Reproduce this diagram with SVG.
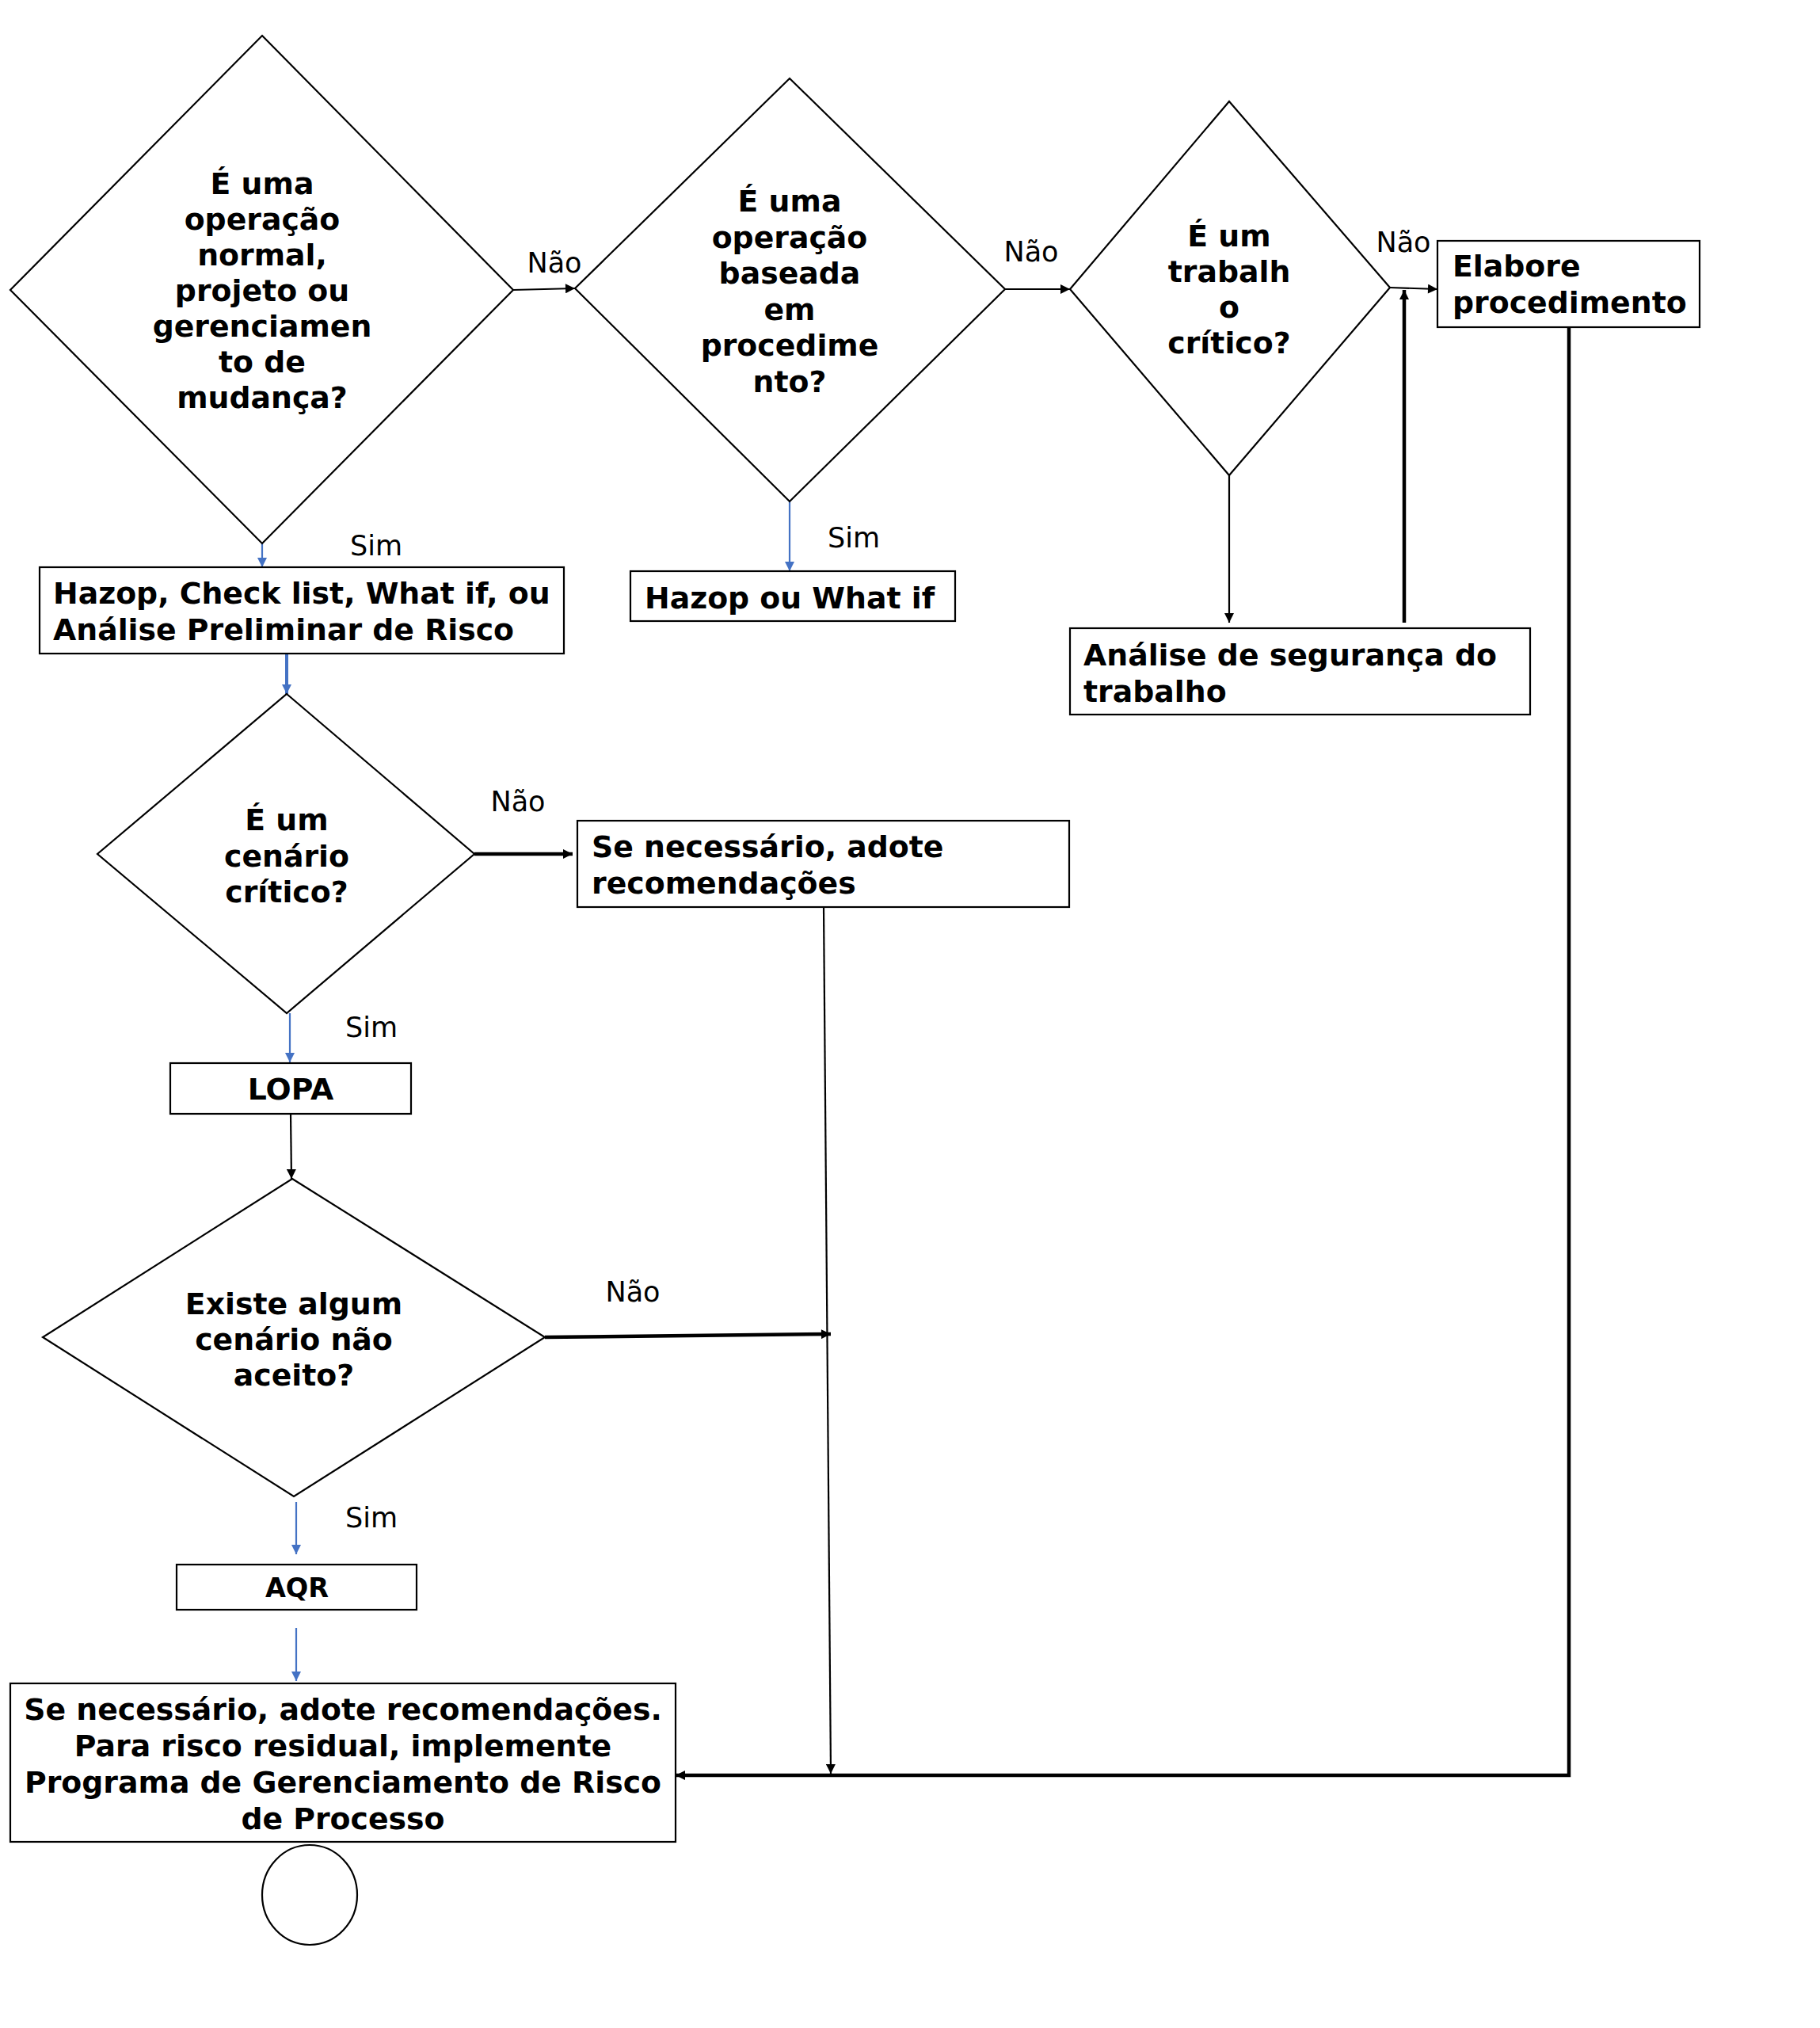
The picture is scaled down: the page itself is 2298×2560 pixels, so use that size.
<svg xmlns="http://www.w3.org/2000/svg" width="2298" height="2560" viewBox="0 0 2298 2560">
<defs>
<marker id="ab" viewBox="0 0 10 10" markerWidth="14" markerHeight="12" refX="10" refY="5" orient="auto" markerUnits="userSpaceOnUse"><path d="M0,0 L10,5 L0,10 Z" fill="#000"/></marker>
<marker id="au" viewBox="0 0 10 10" markerWidth="14" markerHeight="12" refX="10" refY="5" orient="auto" markerUnits="userSpaceOnUse"><path d="M0,0 L10,5 L0,10 Z" fill="#4472C4"/></marker>
</defs>
<style>
.shape{fill:#fff;stroke:#000;stroke-width:2.2}
.t{font-family:"DejaVu Sans","Verdana",sans-serif;font-weight:bold;font-size:37.8px;fill:#000}
.c{text-anchor:middle}
.lbl{font-family:"DejaVu Sans","Verdana",sans-serif;font-size:35px;fill:#000;text-anchor:middle}
.k{fill:none;stroke:#000;stroke-width:2.2}
.kk{fill:none;stroke:#000;stroke-width:4.5}
.b{fill:none;stroke:#4472C4;stroke-width:2.2}
.bb{fill:none;stroke:#4472C4;stroke-width:4}
</style>
<rect width="2298" height="2560" fill="#fff"/>

<g id="connectors">
<line class="k" x1="648" y1="366" x2="726" y2="364" marker-end="url(#ab)"/>
<line class="k" x1="1269" y1="365" x2="1351" y2="365" marker-end="url(#ab)"/>
<line class="k" x1="1755" y1="363" x2="1815" y2="365" marker-end="url(#ab)"/>
<line class="b" x1="331" y1="686" x2="331" y2="716" marker-end="url(#au)"/>
<line class="bb" x1="362" y1="825" x2="362" y2="876" marker-end="url(#au)"/>
<line class="b" x1="997" y1="633" x2="997" y2="721" marker-end="url(#au)"/>
<line class="k" x1="1552" y1="600" x2="1552" y2="786" marker-end="url(#ab)"/>
<line class="kk" x1="1773" y1="786" x2="1773" y2="366" marker-end="url(#ab)"/>
<line class="kk" x1="599" y1="1078" x2="723" y2="1078" marker-end="url(#ab)"/>
<line class="b" x1="366" y1="1279" x2="366" y2="1341" marker-end="url(#au)"/>
<line class="k" x1="367" y1="1406" x2="368" y2="1488" marker-end="url(#ab)"/>
<line class="kk" x1="688" y1="1688" x2="1049" y2="1684" marker-end="url(#ab)"/>
<line class="k" x1="1040" y1="1145" x2="1049" y2="2239" marker-end="url(#ab)"/>
<line class="b" x1="374" y1="1896" x2="374" y2="1962" marker-end="url(#au)"/>
<line class="b" x1="374" y1="2055" x2="374" y2="2122" marker-end="url(#au)"/>
<polyline class="kk" points="1981,413 1981,2241 853,2241" marker-end="url(#ab)"/>
<text class="lbl" x="700" y="344">Não</text>
<text class="lbl" x="1302" y="330">Não</text>
<text class="lbl" x="1772" y="318">Não</text>
<text class="lbl" x="654" y="1024">Não</text>
<text class="lbl" x="799" y="1643">Não</text>
<text class="lbl" x="475" y="701">Sim</text>
<text class="lbl" x="1078" y="691">Sim</text>
<text class="lbl" x="469" y="1309">Sim</text>
<text class="lbl" x="469" y="1928">Sim</text>
</g>

<g id="d1">
<polygon class="shape" points="331,45 648,366 331,686 13,366"/>
<text class="t c" x="331" y="245"><tspan x="331">É uma</tspan><tspan x="331" dy="45">operação</tspan><tspan x="331" dy="45">normal,</tspan><tspan x="331" dy="45">projeto ou</tspan><tspan x="331" dy="45">gerenciamen</tspan><tspan x="331" dy="45">to de</tspan><tspan x="331" dy="45">mudança?</tspan></text>
</g>

<g id="d2">
<polygon class="shape" points="997,99 1269,365 997,633 726,364"/>
<text class="t c" x="997" y="267"><tspan x="997">É uma</tspan><tspan x="997" dy="45.6">operação</tspan><tspan x="997" dy="45.6">baseada</tspan><tspan x="997" dy="45.6">em</tspan><tspan x="997" dy="45.6">procedime</tspan><tspan x="997" dy="45.6">nto?</tspan></text>
</g>

<g id="d3">
<polygon class="shape" points="1552,128 1755,363 1552,600 1351,365"/>
<text class="t c" x="1552" y="311"><tspan x="1552">É um</tspan><tspan x="1552" dy="45">trabalh</tspan><tspan x="1552" dy="45">o</tspan><tspan x="1552" dy="45">crítico?</tspan></text>
</g>

<g id="elabore">
<rect class="shape" x="1815" y="304" width="331" height="109"/>
<text class="t" x="1834" y="349">Elabore</text>
<text class="t" x="1834" y="395">procedimento</text>
</g>

<g id="hazop1">
<rect class="shape" x="50" y="716" width="662" height="109"/>
<text class="t" x="67" y="762">Hazop, Check list, What if, ou</text>
<text class="t" x="67" y="808">Análise Preliminar de Risco</text>
</g>

<g id="hazop2">
<rect class="shape" x="796" y="721" width="410" height="63"/>
<text class="t" x="814" y="768">Hazop ou What if</text>
</g>

<g id="ast">
<rect class="shape" x="1351" y="793" width="581" height="109"/>
<text class="t" x="1368" y="840">Análise de segurança do</text>
<text class="t" x="1368" y="886">trabalho</text>
</g>

<g id="d4">
<polygon class="shape" points="362,876 599,1078 362,1279 123,1078"/>
<text class="t c" x="362" y="1048"><tspan x="362">É um</tspan><tspan x="362" dy="45.5">cenário</tspan><tspan x="362" dy="45.5">crítico?</tspan></text>
</g>

<g id="rec1">
<rect class="shape" x="729" y="1036" width="621" height="109"/>
<text class="t" x="747" y="1082">Se necessário, adote</text>
<text class="t" x="747" y="1128">recomendações</text>
</g>

<g id="lopa">
<rect class="shape" x="215" y="1342" width="304" height="64"/>
<text class="t c" x="367" y="1388">LOPA</text>
</g>

<g id="d5">
<polygon class="shape" points="369,1488 688,1688 371,1889 54,1688"/>
<text class="t c" x="371" y="1659"><tspan x="371">Existe algum</tspan><tspan x="371" dy="45">cenário não</tspan><tspan x="371" dy="45">aceito?</tspan></text>
</g>

<g id="aqr">
<rect class="shape" x="223" y="1975" width="303" height="57"/>
<text class="t c" x="375" y="2016" style="font-size:33.5px">AQR</text>
</g>

<g id="final">
<rect class="shape" x="13" y="2125" width="840" height="200"/>
<text class="t c" x="433" y="2171"><tspan x="433">Se necessário, adote recomendações.</tspan><tspan x="433" dy="46">Para risco residual, implemente</tspan><tspan x="433" dy="46">Programa de Gerenciamento de Risco</tspan><tspan x="433" dy="46">de Processo</tspan></text>
</g>

<g id="end">
<ellipse class="shape" cx="391" cy="2392" rx="60" ry="63"/>
</g>
</svg>
